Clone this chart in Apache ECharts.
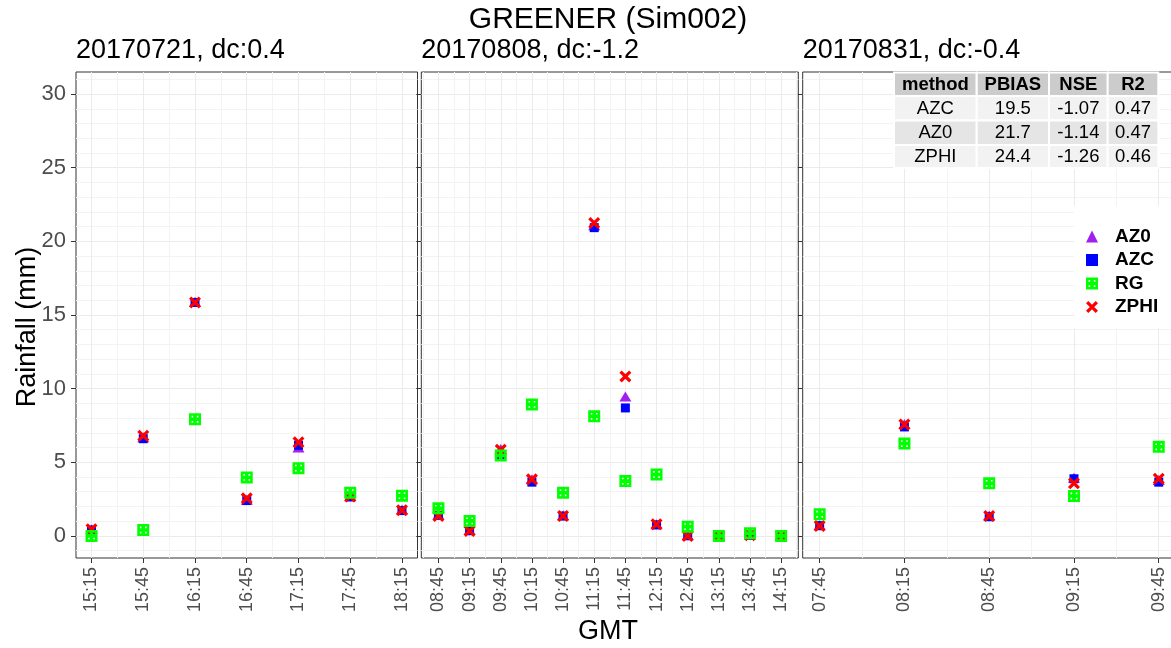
<!DOCTYPE html>
<html>
<head>
<meta charset="utf-8">
<script src="https://cdn.jsdelivr.net/npm/echarts@6/dist/echarts.min.js"></script>
<style>
  html, body { margin: 0; padding: 0; background: #ffffff; }
  #chart { width: 1171px; height: 648px; }
</style>
</head>
<body>
<div id="chart"></div>
<script>
// ---------- data ----------
const plotTitle = 'GREENER (Sim002)';
const panelTitles = ['20170721, dc:0.4', '20170808, dc:-1.2', '20170831, dc:-0.4'];

const times1 = ['15:15', '15:45', '16:15', '16:45', '17:15', '17:45', '18:15'];
const rg1    = [0.00, 0.40, 7.92, 3.97, 4.60, 2.93, 2.73];
const azc1   = [0.40, 6.60, 15.85, 2.40, 6.15, 2.65, 1.72];
const az01   = [0.45, 6.70, 15.90, 2.45, 6.00, 2.70, 1.80];
const zphi1  = [0.45, 6.80, 15.85, 2.55, 6.36, 2.68, 1.75];

const times2 = ['08:45', '09:15', '09:45', '10:15', '10:45', '11:15', '11:45', '12:15', '12:45', '13:15', '13:45', '14:15'];
const rg2    = [1.87, 1.02, 5.46, 8.93, 2.93, 8.12, 3.72, 4.17, 0.63, 0.00, 0.18, 0.00];
const azc2   = [1.40, 0.35, 5.50, 3.65, 1.35, 20.93, 8.69, 0.75, 0.02, 0.00, 0.05, 0.05];
const az02   = [1.45, 0.40, 5.90, 3.85, 1.40, 21.10, 9.47, 0.80, 0.05, 0.00, 0.10, 0.10];
const zphi2  = [1.35, 0.34, 5.85, 3.84, 1.35, 21.25, 10.83, 0.79, 0.00, 0.00, 0.05, 0.00];

const times3 = ['07:45', '08:15', '08:45', '09:15', '09:45'];
const rg3    = [1.47, 6.27, 3.57, 2.71, 6.05];
const azc3   = [0.70, 7.40, 1.30, 3.88, 3.65];
const az03   = [0.72, 7.60, 1.38, 3.95, 3.80];
const zphi3  = [0.68, 7.56, 1.35, 3.57, 3.88];

const yTicks = [0, 5, 10, 15, 20, 25, 30];
const yMinorBreaks = [-1, 1, 2, 3, 4, 6, 7, 8, 9, 11, 12, 13, 14, 16, 17, 18, 19, 21, 22, 23, 24, 26, 27, 28, 29, 31];

const legendOrder = ['AZ0', 'AZC', 'RG', 'ZPHI'];

const tableHeader  = ['method', 'PBIAS', 'NSE', 'R2'];
const tableMethods = ['AZC', 'AZ0', 'ZPHI'];
const tablePBIAS   = ['19.5', '21.7', '24.4'];
const tableNSE     = ['-1.07', '-1.14', '-1.26'];
const tableR2      = ['0.47', '0.47', '0.46'];

// ---------- layout & styles ----------
const FONT = '"Liberation Sans", Arial, Helvetica, sans-serif';
const PANEL_TOP = 72;
const PANEL_HEIGHT = 486;
const panelBoxes = [
  { left: 76, width: 341.5 },
  { left: 421.3, width: 377 },
  { left: 802.7, width: 373 }
];

const panels = [
  { times: times1, values: { AZ0: az01, AZC: azc1, RG: rg1, ZPHI: zphi1 } },
  { times: times2, values: { AZ0: az02, AZC: azc2, RG: rg2, ZPHI: zphi2 } },
  { times: times3, values: { AZ0: az03, AZC: azc3, RG: rg3, ZPHI: zphi3 } }
];

// square with a plus cut out of it (four holes), and a thick cross
const RG_PATH = 'path://M0,0L12,0L12,12L0,12Z' +
  'M2.6,2.6L2.6,4.2L4.2,4.2L4.2,2.6Z' +
  'M7.8,2.6L7.8,4.2L9.4,4.2L9.4,2.6Z' +
  'M2.6,7.8L2.6,9.4L4.2,9.4L4.2,7.8Z' +
  'M7.8,7.8L7.8,9.4L9.4,9.4L9.4,7.8Z';
const X_PATH = 'path://M0,2.3L2.3,0L12,9.7L9.7,12ZM9.7,0L12,2.3L2.3,12L0,9.7Z';

const methodStyle = {
  AZ0:  { symbol: 'triangle', size: [12, 10], color: '#A020F0' },
  AZC:  { symbol: 'rect', size: 9, color: '#0000FF' },
  ZPHI: { symbol: X_PATH, size: 12, color: '#FF0000' },
  RG:   { symbol: RG_PATH, size: 12, color: '#00FF00' }
};
const drawOrder = ['AZ0', 'AZC', 'ZPHI', 'RG'];

const MAJOR_GRID = '#EBEBEB';
const MINOR_GRID = '#F3F3F3';
const Y_MIN = -1.5, Y_MAX = 31.5;

// ---------- build option ----------
const grids = [], xAxes = [], yAxes = [], series = [];
const nPanels = panels.length;

panels.forEach((p, i) => {
  const n = p.times.length;
  const idx = p.times.map((_, k) => k);
  const xMin = -0.05 * (n - 1), xMax = 1.05 * (n - 1);
  const halfSteps = [];
  for (let k = -1; k < n; k++) {
    const h = k + 0.5;
    if (h > xMin && h < xMax) halfSteps.push(h);
  }

  grids.push({
    left: panelBoxes[i].left, top: PANEL_TOP,
    width: panelBoxes[i].width, height: PANEL_HEIGHT,
    show: true, borderColor: '#333333', borderWidth: 1,
    backgroundColor: 'transparent', containLabel: false, outerBoundsMode: 'none'
  });

  // main x axis: ticks, labels, major grid
  xAxes[i] = {
    type: 'value', gridIndex: i, min: xMin, max: xMax, position: 'bottom',
    axisLine: { show: false, onZero: false },
    axisTick: { show: true, length: 5, customValues: idx, lineStyle: { color: '#333333', width: 1 } },
    axisLabel: {
      show: true, customValues: idx, rotate: 90, margin: 9,
      color: '#4D4D4D', fontSize: 18, fontFamily: FONT,
      formatter: v => p.times[Math.round(v)]
    },
    splitLine: { show: true, lineStyle: { color: MAJOR_GRID, width: 1 } }
  };
  // minor x grid
  xAxes[nPanels + i] = {
    type: 'value', gridIndex: i, min: xMin, max: xMax, position: 'top',
    axisLine: { show: false, onZero: false },
    axisTick: { show: false, customValues: halfSteps },
    axisLabel: { show: false },
    splitLine: { show: true, lineStyle: { color: MINOR_GRID, width: 1 } }
  };

  yAxes[i] = {
    type: 'value', gridIndex: i, min: Y_MIN, max: Y_MAX, position: 'left',
    axisLine: { show: false, onZero: false },
    axisTick: { show: true, length: 5, customValues: yTicks, lineStyle: { color: '#333333', width: 1 } },
    axisLabel: {
      show: i === 0, customValues: yTicks, margin: 10,
      color: '#4D4D4D', fontSize: 22, fontFamily: FONT
    },
    splitLine: { show: true, lineStyle: { color: MAJOR_GRID, width: 1 } }
  };
  yAxes[nPanels + i] = {
    type: 'value', gridIndex: i, min: Y_MIN, max: Y_MAX, position: 'right',
    axisLine: { show: false, onZero: false },
    axisTick: { show: false, customValues: yMinorBreaks },
    axisLabel: { show: false },
    splitLine: { show: true, lineStyle: { color: MINOR_GRID, width: 1 } }
  };

  drawOrder.forEach(m => {
    const st = methodStyle[m];
    series.push({
      name: m, type: 'scatter',
      xAxisIndex: i, yAxisIndex: i,
      symbol: st.symbol, symbolSize: st.size,
      itemStyle: { color: st.color, opacity: 1 },
      emphasis: { disabled: true },
      data: p.values[m].map((v, k) => [k, v])
    });
  });
});

// ---------- text and table graphics ----------
const graphics = [];
graphics.push({
  type: 'text', x: 608, y: 20, z: 100,
  style: { text: plotTitle, font: '30px ' + FONT, fill: '#000', textAlign: 'center', textVerticalAlign: 'middle' }
});
panelTitles.forEach((t, i) => {
  graphics.push({
    type: 'text', x: panelBoxes[i].left, y: 50.5, z: 100,
    style: { text: t, font: '27px ' + FONT, fill: '#000', textAlign: 'left', textVerticalAlign: 'middle' }
  });
});
graphics.push({
  type: 'text', x: 608, y: 632, z: 100,
  style: { text: 'GMT', font: '27px ' + FONT, fill: '#000', textAlign: 'center', textVerticalAlign: 'middle' }
});
graphics.push({
  type: 'text', x: 28, y: 327, rotation: Math.PI / 2, z: 100,
  style: { text: 'Rainfall (mm)', font: '27px ' + FONT, fill: '#000', textAlign: 'center', textVerticalAlign: 'middle' }
});

// statistics table
const colEdges = [894, 976.7, 1049, 1107.7, 1158.3];
const rowEdges = [72.5, 96, 120.5, 145, 168];
const tableBody = tableMethods.map((m, r) => [m, tablePBIAS[r], tableNSE[r], tableR2[r]]);
const tableRows = [tableHeader].concat(tableBody);
const rowFills = ['#CCCCCC', '#F2F2F2', '#E5E5E5', '#F2F2F2'];
tableRows.forEach((row, r) => {
  row.forEach((cell, c) => {
    const x0 = colEdges[c], x1 = colEdges[c + 1];
    const y0 = rowEdges[r], y1 = rowEdges[r + 1];
    graphics.push({
      type: 'rect', z: 100,
      shape: { x: x0, y: y0, width: x1 - x0, height: y1 - y0 },
      style: { fill: rowFills[r], stroke: '#FFFFFF', lineWidth: 2 }
    });
    graphics.push({
      type: 'text', z: 101, x: (x0 + x1) / 2, y: (y0 + y1) / 2 + 0.5,
      style: {
        text: cell, fill: '#000',
        font: (r === 0 ? 'bold ' : '') + '18.5px ' + FONT,
        textAlign: 'center', textVerticalAlign: 'middle'
      }
    });
  });
});

const option = {
  animation: false,
  backgroundColor: '#FFFFFF',
  grid: grids,
  xAxis: xAxes,
  yAxis: yAxes,
  legend: {
    data: legendOrder,
    orient: 'vertical',
    left: 1074, top: 206,
    padding: [21, 30, 12, 12],
    backgroundColor: '#FFFFFF',
    itemWidth: 12, itemHeight: 12, itemGap: 4.5,
    selectedMode: false,
    textStyle: { fontSize: 19, fontWeight: 'bold', color: '#000', fontFamily: FONT, padding: [0, 0, 0, 12] }
  },
  series: series,
  graphic: { elements: graphics }
};

const chart = echarts.init(document.getElementById('chart'), null, { renderer: 'canvas' });
chart.setOption(option);
</script>
</body>
</html>
